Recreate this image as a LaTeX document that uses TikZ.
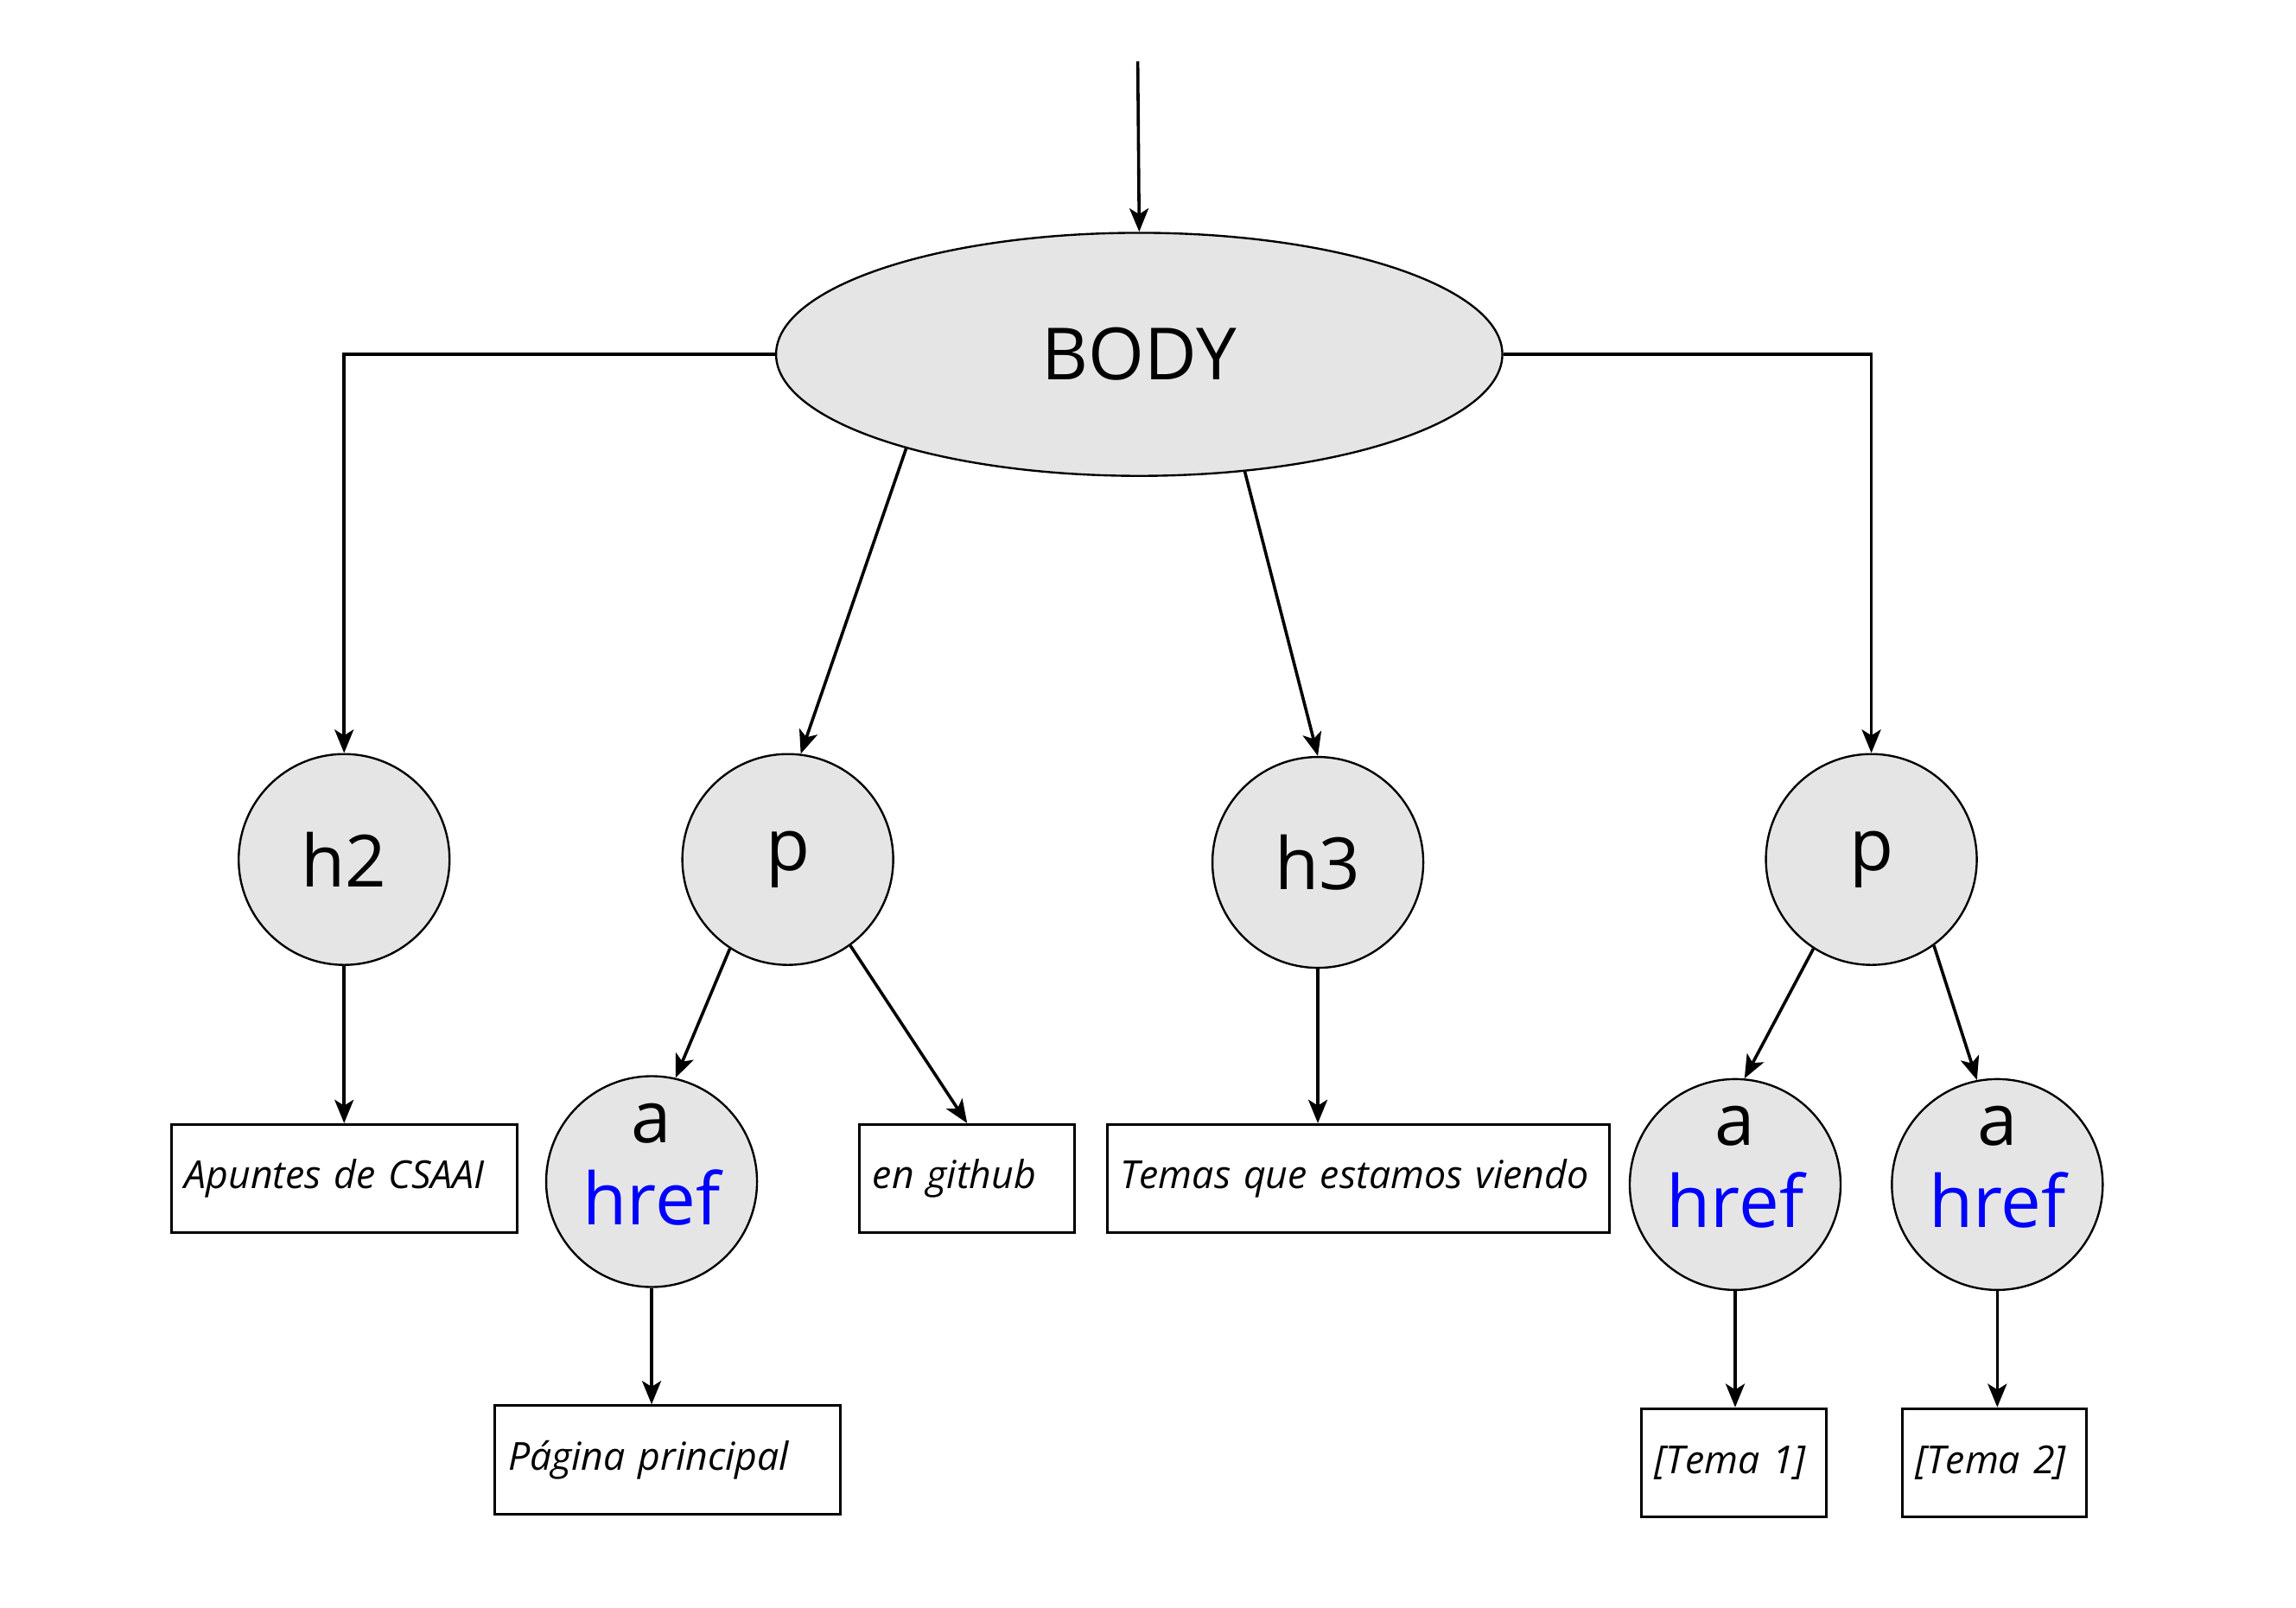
\documentclass[tikz,border=0pt]{standalone}
\usepackage{fontspec}
\setmainfont{Open Sans}
\usepackage{xcolor}
\usetikzlibrary{arrows.meta,shapes.geometric}

\begin{document}
\begin{tikzpicture}[x=0.1mm, y=-0.1mm, >={Stealth[length=1.6mm,width=1.3mm,inset=0.4mm]}]
        \useasboundingbox (0,0) rectangle (1568,1098);
        \tikzset{tag/.style={circle, draw, line width=0.4pt, fill=black!10, minimum size=14.4mm, inner sep=0pt, font=\fontsize{14}{16}\selectfont}}
        \tikzset{link/.style={tag, align=center, text depth=2.4mm}}
        \tikzset{leaf/.style={rectangle, draw, line width=0.5pt, minimum height=7.4mm, inner xsep=0.9mm, align=left, font=\fontsize{7.5}{9}\selectfont\itshape}}
        \coordinate (top) at (777,42);
        \node[ellipse, draw, line width=0.4pt, fill=black!10, minimum width=49.6mm, minimum height=16.6mm, font=\fontsize{14}{16}\selectfont] (body) at (778,242) {BODY};
        \node[tag] (hdos) at (235,587) {h2};
        \node[tag] (pone) at (538,587) {p};
        \node[tag] (htres) at (900,589) {h3};
        \node[tag] (ptwo) at (1278,587) {p};
        \node[link] (aone) at (445,807) {a\\\textcolor{blue}{href}};
        \node[link] (atwo) at (1185,809) {a\\\textcolor{blue}{href}};
        \node[link] (athree) at (1364,809) {a\\\textcolor{blue}{href}};
        % text boxes
        \node[leaf, text width=21.8mm] (apuntes) at (235,805) {Apuntes de CSAAI};
        \node[leaf, text width=12.9mm] (github) at (660.5,805) {en github};
        \node[leaf, text width=32.5mm] (temas) at (927.5,805) {Temas que estamos viendo};
        \node[leaf, text width=21.8mm] (pagina) at (456,997) {Página principal};
        \node[leaf, text width=10.8mm] (temaone) at (1184,999) {[Tema 1]};
        \node[leaf, text width=10.8mm] (tematwo) at (1362,999) {[Tema 2]};
        % top level
        \tikzset{branch/.style={->, line width=0.6pt}}
        \path (top) edge [branch] (body.north);
        \draw [branch] (body.west) -| (hdos.north);
        \draw [branch] (body.east) -| (ptwo.north);
        \path (body.202) edge [branch] (pone.83);
        \path (body.312) edge [branch] (htres.north);
        \path (hdos.south) edge [branch] (apuntes.north);
        \path (pone.237) edge [branch] (aone.77);
        \path (pone.306) edge [branch] (github.north);
        \path (htres.south) edge [branch] (htres.south |- temas.north);
        \path (aone.south) edge [branch] (aone.south |- pagina.north);
        \path (ptwo.237) edge [branch] (atwo.85);
        \path (ptwo.306) edge [branch] (athree.101);
        \path (atwo.south) edge [branch] (atwo.south |- temaone.north);
        \path (athree.south) edge [branch] (athree.south |- tematwo.north);
\end{tikzpicture}
\end{document}
